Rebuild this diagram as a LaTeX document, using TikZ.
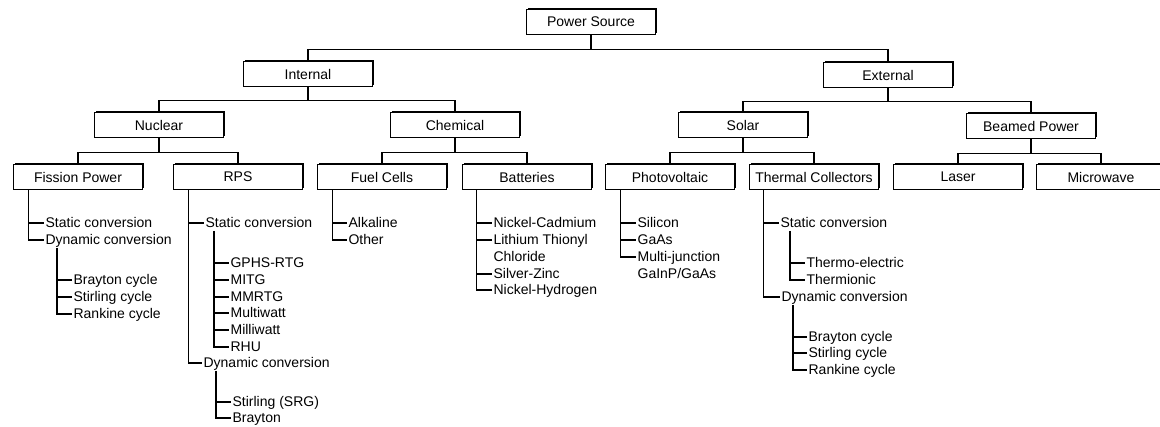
\documentclass[tikz,border=0pt]{standalone}
\usepackage{fontspec}
\setmainfont{Liberation Sans}
\usetikzlibrary{calc,shadows}

\tikzset{
  box/.style={draw, fill=white, line width=0.6pt, minimum width=97pt, minimum height=19pt,
    inner sep=1pt, font=\fontsize{10.5}{12}\selectfont,
    drop shadow={shadow xshift=1.3pt, shadow yshift=1.3pt, opacity=1, fill=black}},
  item/.style={anchor=west, inner sep=1pt, text height=1.5ex, text depth=.25ex,
    font=\fontsize{10.5}{12}\selectfont},
  link/.style={line width=0.8pt}
}

\begin{document}
\begin{tikzpicture}[x=0.75pt,y=0.75pt,yscale=-1,xscale=1]
\useasboundingbox (0,0) rectangle (1160,426);

% boxes
\node[box] (ps) at (591,22) {Power Source};
\node[box] (int) at (308,74) {Internal};
\node[box] (ext) at (888,75) {External};
\node[box] (nuc) at (159,125) {Nuclear};
\node[box] (chem) at (455,125) {Chemical};
\node[box] (sol) at (743,125) {Solar};
\node[box] (beam) at (1031,126) {Beamed Power};
\node[box] (fiss) at (78,177) {Fission Power};
\node[box] (rps) at (238,177) {RPS};
\node[box] (fuel) at (382,177) {Fuel Cells};
\node[box] (batt) at (527,177) {Batteries};
\node[box] (pv) at (670,177) {Photovoltaic};
\node[box] (therm) at (814,177) {Thermal Collectors};
\node[box] (laser) at (958,177) {Laser};
\node[box] (micro) at (1101,177) {Microwave};

% tree links
\draw[link] (ps.south) -- ++(0,14) coordinate (bps);
\draw[link] (int.north) |- (bps) -| (ext.north);
\draw[link] (int.south) -- ++(0,13) coordinate (bint);
\draw[link] (nuc.north) |- (bint) -| (chem.north);
\draw[link] (ext.south) -- ++(0,13) coordinate (bext);
\draw[link] (sol.north) |- (bext) -| (beam.north);
\draw[link] (nuc.south) -- ++(0,14) coordinate (bnuc);
\draw[link] (fiss.north) |- (bnuc) -| (rps.north);
\draw[link] (chem.south) -- ++(0,14) coordinate (bchem);
\draw[link] (fuel.north) |- (bchem) -| (batt.north);
\draw[link] (sol.south) -- ++(0,14) coordinate (bsol);
\draw[link] (pv.north) |- (bsol) -| (therm.north);
\draw[link] (beam.south) -- ++(0,14) coordinate (bbeam);
\draw[link] (laser.north) |- (bbeam) -| (micro.north);

% Fission Power list
\node[item] (f1) at (44,223) {Static conversion};
\node[item] (f2) at (44,240) {Dynamic conversion};
\node[item] (f3) at (72,280) {Brayton cycle};
\node[item] (f4) at (72,297) {Stirling cycle};
\node[item] (f5) at (72,314) {Rankine cycle};

% RPS list
\node[item] (r1) at (204,223) {Static conversion};
\node[item] (r2) at (229,263) {GPHS-RTG};
\node[item] (r3) at (229,280) {MITG};
\node[item] (r4) at (229,297) {MMRTG};
\node[item] (r5) at (229,313) {Multiwatt};
\node[item] (r6) at (229,330) {Milliwatt};
\node[item] (r7) at (229,347) {RHU};
\node[item] (r8) at (202,363) {Dynamic conversion};
\node[item] (r9) at (231,402) {Stirling (SRG)};
\node[item] (r10) at (231,418) {Brayton};

% Fuel Cells list
\node[item] (u1) at (347,223) {Alkaline};
\node[item] (u2) at (347,240) {Other};

% Batteries list
\node[item] (b1) at (492,223) {Nickel-Cadmium};
\node[item] (b2) at (492,240) {Lithium Thionyl};
\node[item] (b2c) at (492,257) {Chloride};
\node[item] (b3) at (492,274) {Silver-Zinc};
\node[item] (b4) at (492,290) {Nickel-Hydrogen};

% Photovoltaic list
\node[item] (p1) at (636,223) {Silicon};
\node[item] (p2) at (636,240) {GaAs};
\node[item] (p3) at (636,257) {Multi-junction};
\node[item] (p3b) at (636,274) {GaInP/GaAs};

% Thermal Collectors list
\node[item] (t1) at (779,223) {Static conversion};
\node[item] (t2) at (805,263) {Thermo-electric};
\node[item] (t3) at (805,280) {Thermionic};
\node[item] (t4) at (780,297) {Dynamic conversion};
\node[item] (t5) at (807,337) {Brayton cycle};
\node[item] (t6) at (807,353) {Stirling cycle};
\node[item] (t7) at (807,370) {Rankine cycle};

% list trunks
\coordinate (fv) at ($(fiss.south west)+(16,0)$);
\coordinate (fdv) at ($(f2.south west)+(13,0)$);
\coordinate (rv) at ($(rps.south west)+(16,0)$);
\coordinate (rsv) at ($(r1.south west)+(10,0)$);
\coordinate (rdv) at ($(r8.south west)+(14,0)$);
\coordinate (uv) at ($(fuel.south west)+(16,0)$);
\coordinate (bv) at ($(batt.south west)+(15,0)$);
\coordinate (pv0) at ($(pv.south west)+(16,0)$);
\coordinate (tv) at ($(therm.south west)+(15,0)$);
\coordinate (tsv) at ($(t1.south west)+(11,0)$);
\coordinate (tdv) at ($(t4.south west)+(13,0)$);

\draw[link] (fv) |- (f2.west);
\draw[link] (fv |- f1.west) -- (f1.west);
\draw[link] (fdv) |- (f5.west);
\foreach \n in {f3,f4} \draw[link] (fdv |- \n.west) -- (\n.west);

\draw[link] (rv) |- (r8.west);
\draw[link] (rv |- r1.west) -- (r1.west);
\draw[link] (rsv) |- (r7.west);
\foreach \n in {r2,r3,r4,r5,r6} \draw[link] (rsv |- \n.west) -- (\n.west);
\draw[link] (rdv) |- (r10.west);
\draw[link] (rdv |- r9.west) -- (r9.west);

\draw[link] (uv) |- (u2.west);
\draw[link] (uv |- u1.west) -- (u1.west);

\draw[link] (bv) |- (b4.west);
\foreach \n in {b1,b2,b3} \draw[link] (bv |- \n.west) -- (\n.west);

\draw[link] (pv0) |- (p3.west);
\foreach \n in {p1,p2} \draw[link] (pv0 |- \n.west) -- (\n.west);

\draw[link] (tv) |- (t4.west);
\draw[link] (tv |- t1.west) -- (t1.west);
\draw[link] (tsv) |- (t3.west);
\draw[link] (tsv |- t2.west) -- (t2.west);
\draw[link] (tdv) |- (t7.west);
\foreach \n in {t5,t6} \draw[link] (tdv |- \n.west) -- (\n.west);

\end{tikzpicture}
\end{document}
